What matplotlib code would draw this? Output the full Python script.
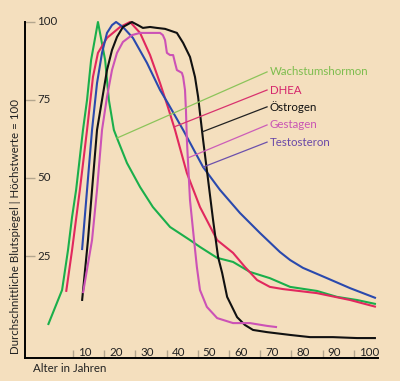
import numpy as np
import matplotlib
matplotlib.use("Agg")
import matplotlib.pyplot as plt

plt.rcParams['font.family'] = ['Lato', 'DejaVu Sans']

# ---- data (age in years, level in % of peak) ----
gh_age = [2.0, 6.5, 8.4, 9.7, 11.0, 13.2, 14.5, 15.8, 18.0, 20.3, 21.5, 23.1, 24.1, 27.3, 31.5,
          35.6, 41.1, 47.5, 50.7, 56.2, 61.3, 66.7, 73.1, 79.6, 88.2, 94.6, 101.0, 107.1]
gh_val = [2.9, 14.1, 26.9, 37.5, 46.2, 65.4, 75.0, 87.8, 100.0, 87.8, 75.0, 65.4, 62.8, 54.8, 47.1,
          40.7, 34.3, 30.1, 27.9, 24.4, 23.1, 19.9, 17.9, 15.1, 13.8, 11.9, 10.9, 9.6]

dhea_age = [7.8, 9.7, 12.2, 14.5, 16.4, 18.0, 20.9, 25.1, 28.3, 31.5, 34.7, 37.9, 40.4, 42.7, 46.5,
            50.7, 56.2, 61.3, 65.1, 69.0, 73.1, 77.3, 88.2, 98.8, 107.1]
dhea_val = [13.5, 26.9, 46.2, 65.4, 82.4, 90.1, 94.9, 98.4, 100.0, 96.5, 89.4, 80.4, 72.8, 65.4, 51.6,
            40.7, 30.1, 26.0, 21.5, 17.3, 15.1, 14.4, 13.1, 10.9, 8.7]

oest_age = [12.9, 14.8, 16.1, 17.7, 19.3, 20.9, 22.5, 24.1, 26.0, 28.9, 30.8, 32.4, 34.7, 36.9, 39.5,
            43.3, 45.3, 47.5, 49.1, 50.1, 50.7, 51.7, 53.3, 54.9, 56.5, 57.8, 59.4, 62.6, 65.1, 67.7,
            72.2, 79.6, 86.0, 93.3, 101.0, 107.1]
oest_val = [10.6, 30.1, 46.2, 65.4, 75.0, 84.6, 91.0, 95.2, 98.4, 100.0, 99.0, 98.1, 98.4, 98.1, 97.8,
            96.5, 93.3, 88.8, 82.4, 76.0, 70.8, 62.2, 49.4, 36.5, 24.7, 19.6, 11.9, 5.4, 2.9, 1.3,
            0.6, -0.3, -1.0, -1.0, -1.3, -1.3]

gest_age = [13.2, 16.1, 17.7, 19.3, 20.9, 22.5, 24.1, 26.0, 28.9, 31.5, 34.7, 37.9, 38.8, 39.5, 40.1,
            41.1, 42.1, 42.7, 43.3, 44.9, 45.3, 45.9, 46.2, 46.5, 47.5, 48.8, 49.7, 50.7, 52.9, 56.2,
            61.3, 66.7, 72.2, 75.4]
gest_val = [13.1, 30.1, 46.2, 65.4, 76.0, 84.6, 90.1, 93.6, 95.8, 96.5, 96.5, 96.5, 95.8, 94.2, 90.1,
            89.4, 89.4, 86.9, 84.6, 83.7, 82.4, 78.2, 71.8, 62.2, 42.9, 30.1, 21.5, 14.1, 8.7, 5.1,
            3.5, 3.5, 2.6, 2.2]

test_age = [12.9, 14.5, 16.1, 17.7, 19.3, 20.9, 22.5, 23.8, 26.0, 29.2, 33.7, 37.9, 40.4, 45.3, 51.7,
            57.1, 63.5, 69.9, 76.3, 79.6, 83.7, 91.4, 98.8, 107.1]
test_val = [26.9, 46.2, 65.4, 80.4, 90.1, 96.5, 99.0, 100.0, 98.4, 94.9, 86.9, 78.2, 74.0, 65.4, 53.5,
            46.2, 38.8, 32.4, 26.3, 23.7, 21.2, 17.9, 14.7, 11.5]

x_ticks = [10, 20, 30, 40, 50, 60, 70, 80, 90, 100]
y_ticks = [25, 50, 75, 100]

labels = ["Wachstumshormon", "DHEA", "Östrogen", "Gestagen", "Testosteron"]

# ---- styling ----
BG = "#F4DFBE"
series = [
    (gh_age, gh_val, "#1AAF4B"),
    (dhea_age, dhea_val, "#E1285E"),
    (test_age, test_val, "#2A49AD"),
    (oest_age, oest_val, "#111111"),
    (gest_age, gest_val, "#CC52B6"),
]
# legend: (label, text colour, leader colour, series index, age where leader meets curve)
legend_spec = [
    ("Wachstumshormon", "#7DBD4E", "#8CC45A", 0, 24.1),
    ("DHEA", "#D5256B", "#D8326E", 1, 42.4),
    ("Östrogen", "#111111", "#222222", 3, 51.4),
    ("Gestagen", "#C955B4", "#CC5DB8", 4, 46.8),
    ("Testosteron", "#6948A8", "#6C50AC", 2, 51.7),
]

fig = plt.figure(figsize=(4.0, 3.81), dpi=100, facecolor=BG)
ax = fig.add_axes([25 / 400, 23 / 381, 353 / 400, 342 / 381])
ax.set_facecolor(BG)
ax.set_xlim(-5.385, 107.76)
ax.set_ylim(-7.69, 101.92)

for a, v, c in series:
    ax.plot(a, v, color=c, lw=1.5, solid_capstyle='butt', clip_on=False)

for spine in ("top", "right"):
    ax.spines[spine].set_visible(False)
ax.spines["left"].set_bounds(-7.69, 100)
ax.spines["left"].set_linewidth(1.4)
ax.spines["bottom"].set_linewidth(1.4)

TICKC = "#B3A68E"
ax.set_xticks(x_ticks)
ax.set_yticks(y_ticks)
ax.set_xticklabels([])
ax.set_yticklabels([])
ax.tick_params(axis='x', direction='in', length=6, width=1.0, color=TICKC)
ax.tick_params(axis='y', direction='in', length=7.2, width=1.0, color=TICKC)

for t in x_ticks:
    ax.annotate(str(t), xy=(t, 0), xycoords=('data', 'axes fraction'),
                xytext=(3.6, 1.5), textcoords='offset points',
                ha='left', va='baseline', fontsize=8.3, color="#222222")
for t in y_ticks:
    ax.annotate(str(t), xy=(0, t), xycoords=('axes fraction', 'data'),
                xytext=(8.6, 0), textcoords='offset points',
                ha='left', va='center', fontsize=8.3, color="#222222")

# legend with leader lines
text_age = 73.1
line_age = 72.2
text_levels = [84.0, 78.2, 72.8, 67.0, 61.5]
for (lab, tc, lc, si, meet), lev in zip(legend_spec, text_levels):
    a, v, _ = series[si]
    yv = float(np.interp(meet, a, v))
    ax.plot([meet, line_age], [yv, lev], color=lc, lw=0.9)
    ax.text(text_age, lev, lab, color=tc, fontsize=8.3, ha='left', va='center')

fig.text(33 / 400, (381 - 369) / 381, "Alter in Jahren", fontsize=8.3,
         ha='left', va='center', color="#222222")
fig.text(16 / 400, (381 - 227) / 381, "Durchschnittliche Blutspiegel | Höchstwerte = 100",
         rotation=90, fontsize=8.3, ha='center', va='center', color="#222222")

fig.savefig("out.png", dpi=100, facecolor=BG)
